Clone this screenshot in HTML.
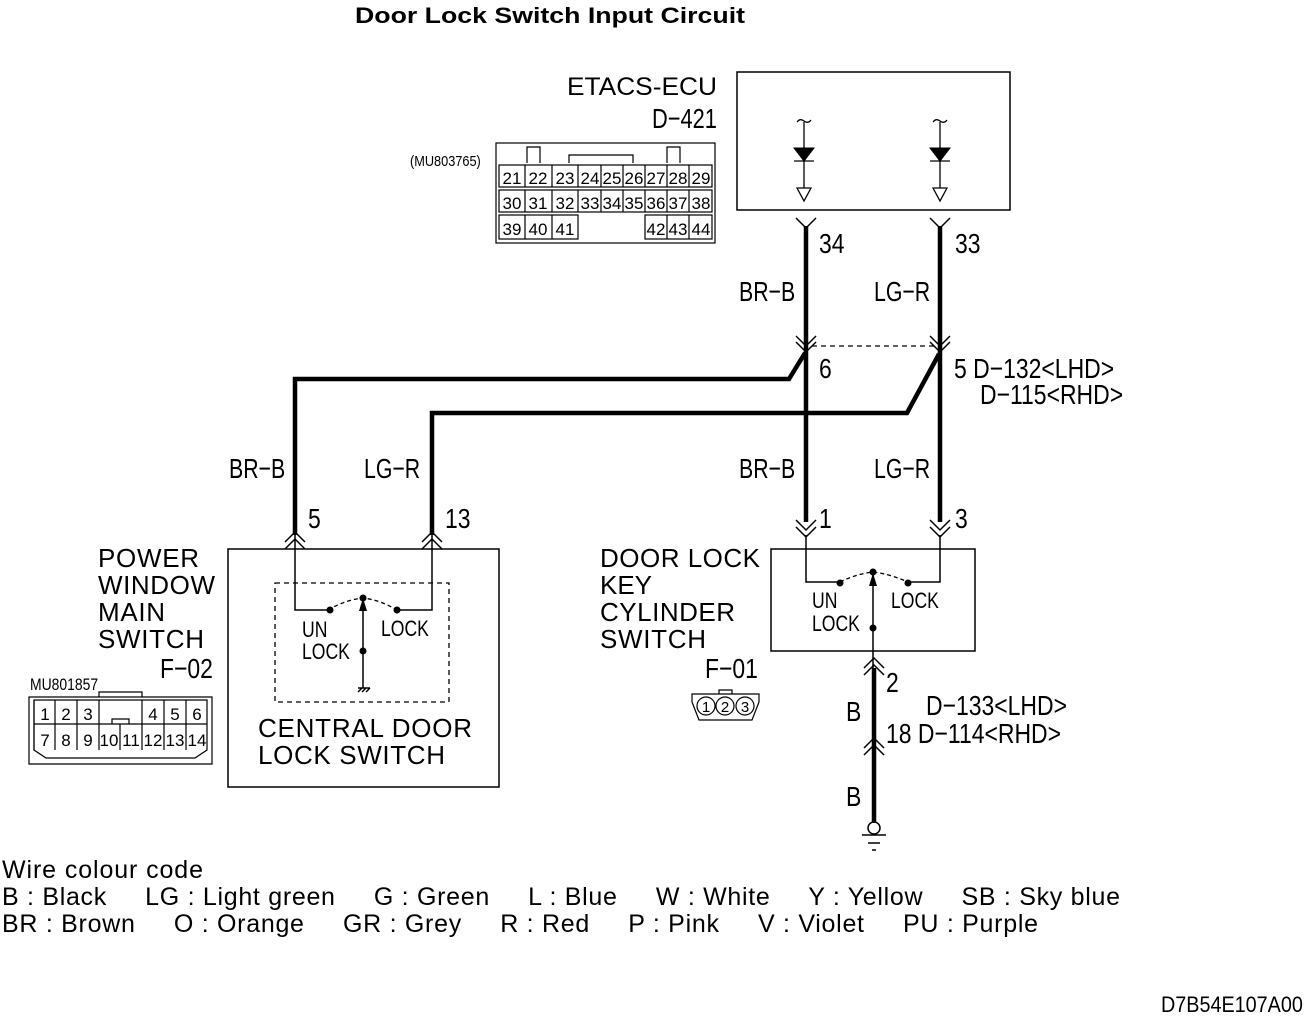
<!DOCTYPE html>
<html><head><meta charset="utf-8"><style>
html,body{margin:0;padding:0;background:#fff}
svg{display:block}
text{font-family:"Liberation Sans",sans-serif;fill:#000}
</style></head><body>
<svg width="1308" height="1017" viewBox="0 0 1308 1017" xmlns="http://www.w3.org/2000/svg">
<g fill="none" stroke="#000">
<text x="355" y="23" font-size="22" font-weight="bold" stroke="none" textLength="390" lengthAdjust="spacingAndGlyphs">Door Lock Switch Input Circuit</text>

<!-- ECU -->
<rect x="737" y="72" width="273" height="138" stroke-width="1.5"/>
<g stroke-width="1.3">
<path d="M797 122 q3 -4 7 -1 t7 -1"/><path d="M804 122 V188"/>
<path d="M933 122 q3 -4 7 -1 t7 -1"/><path d="M940 122 V188"/>
<path d="M794 161 H814 M930 161 H950"/>
<path d="M797 188 H811 L804 201 Z M933 188 H947 L940 201 Z"/>
</g>
<path d="M794 148 H814 L804 161 Z M930 148 H950 L940 161 Z" fill="#000"/>
<text x="567" y="95" font-size="25" stroke="none" textLength="150" lengthAdjust="spacingAndGlyphs">ETACS-ECU</text>
<text transform="translate(652 128) scale(0.78 1)" font-size="28" stroke="none">D−421</text>
<text transform="translate(410 166) scale(0.85 1)" font-size="15" stroke="none">(MU803765)</text>

<!-- ECU connector -->
<g stroke-width="1.2">
<rect x="496" y="143" width="219" height="100"/>
<path d="M527 163 V147 H540 V163 M569 163 V155 H633 V163 M667 163 V147 H680 V163"/>
<rect x="499" y="165" width="213" height="22"/>
<rect x="499" y="190" width="213" height="22"/>
<rect x="499" y="215" width="79" height="24"/>
<rect x="645" y="215" width="67" height="24"/>
<path d="M525 165 V187 M552 165 V187 M578 165 V187 M601 165 V187 M623 165 V187 M645 165 V187 M667 165 V187 M689 165 V187"/>
<path d="M525 190 V212 M552 190 V212 M578 190 V212 M601 190 V212 M623 190 V212 M645 190 V212 M667 190 V212 M689 190 V212"/>
<path d="M525 215 V239 M552 215 V239 M667 215 V239 M689 215 V239"/>
</g>
<g font-size="17" stroke="none" text-anchor="middle">
<text x="512" y="184">21</text><text x="538" y="184">22</text><text x="565" y="184">23</text><text x="590" y="184">24</text><text x="612" y="184">25</text><text x="634" y="184">26</text><text x="656" y="184">27</text><text x="678" y="184">28</text><text x="701" y="184">29</text>
<text x="512" y="209">30</text><text x="538" y="209">31</text><text x="565" y="209">32</text><text x="590" y="209">33</text><text x="612" y="209">34</text><text x="634" y="209">35</text><text x="656" y="209">36</text><text x="678" y="209">37</text><text x="701" y="209">38</text>
<text x="512" y="235">39</text><text x="538" y="235">40</text><text x="565" y="235">41</text><text x="656" y="235">42</text><text x="678" y="235">43</text><text x="701" y="235">44</text>
</g>

<!-- main wires -->
<g stroke-width="4.5">
<path d="M806 226 V522"/><path d="M940 226 V522"/>
<path d="M805 353 L789 379 H295 V535"/>
<path d="M939 354 L907 413 H432 V535"/>
<path d="M874 668 V823"/>
</g>
<g stroke-width="1.5">
<path d="M796 218 L806 228 L816 218 M930 218 L940 228 L950 218"/>
<path d="M796 336 L806 346 L816 336 M796 342 L806 352 L816 342"/>
<path d="M930 336 L940 346 L950 336 M930 342 L940 352 L950 342"/>
</g>
<path d="M812 346 H935" stroke-width="1.3" stroke-dasharray="5,4"/>

<g font-size="28" stroke="none">
<text transform="translate(819 253) scale(0.82 1)">34</text><text transform="translate(955 253) scale(0.82 1)">33</text>
<text transform="translate(739 301) scale(0.76 1)">BR−B</text><text transform="translate(874 301) scale(0.76 1)">LG−R</text>
<text transform="translate(819 378) scale(0.82 1)">6</text>
<text transform="translate(954 378) scale(0.82 1)">5 D−132&lt;LHD&gt;</text>
<text transform="translate(980 404) scale(0.82 1)">D−115&lt;RHD&gt;</text>
<text transform="translate(229 478) scale(0.76 1)">BR−B</text><text transform="translate(364 478) scale(0.76 1)">LG−R</text>
<text transform="translate(739 478) scale(0.76 1)">BR−B</text><text transform="translate(874 478) scale(0.76 1)">LG−R</text>
<text transform="translate(308 528) scale(0.82 1)">5</text><text transform="translate(445 528) scale(0.82 1)">13</text>
<text transform="translate(819 528) scale(0.82 1)">1</text><text transform="translate(955 528) scale(0.82 1)">3</text>
<text transform="translate(886 692) scale(0.82 1)">2</text>
<text transform="translate(846 721) scale(0.82 1)">B</text>
<text transform="translate(926 715) scale(0.82 1)">D−133&lt;LHD&gt;</text>
<text transform="translate(886 743) scale(0.82 1)">18 D−114&lt;RHD&gt;</text>
<text transform="translate(846 806) scale(0.82 1)">B</text>
<text transform="translate(160 678) scale(0.82 1)">F−02</text>
<text transform="translate(705 678) scale(0.82 1)">F−01</text>
</g>

<!-- Power window main switch -->
<rect x="228" y="549" width="271" height="238" stroke-width="1.5"/>
<g stroke-width="1.5">
<path d="M285 542 L295 532 L305 542 M285 549 L295 539 L305 549"/>
<path d="M422 542 L432 532 L442 542 M422 549 L432 539 L442 549"/>
<path d="M295 535 V610 H328 M432 535 V610 H397"/>
<path d="M363 598 V688 M358 688 H370 M358 692 L362 688 M362 692 L366 688 M366 692 L370 688"/>
</g>
<rect x="275" y="583" width="174" height="119" stroke-width="1.3" stroke-dasharray="5,4"/>
<path d="M328 610 Q345 600 363 598 Q380 600 397 610" stroke-width="1.3" stroke-dasharray="4,3"/>
<g fill="#000" stroke="none">
<circle cx="330" cy="610" r="3.5"/><circle cx="397" cy="610" r="3.5"/><circle cx="363" cy="598" r="3.5"/><circle cx="363" cy="651" r="3.5"/>
<path d="M359 611 L363 598 L367 611 Z"/>
</g>
<g font-size="22" stroke="none">
<text transform="translate(302 637) scale(0.8 1)">UN</text><text transform="translate(302 659) scale(0.8 1)">LOCK</text><text transform="translate(381 636) scale(0.8 1)">LOCK</text>
<text transform="translate(812 608) scale(0.8 1)">UN</text><text transform="translate(812 631) scale(0.8 1)">LOCK</text><text transform="translate(891 608) scale(0.8 1)">LOCK</text>
</g>
<g font-size="26" stroke="none" lengthAdjust="spacingAndGlyphs">
<text x="98" y="567" textLength="101">POWER</text><text x="98" y="594" textLength="117">WINDOW</text><text x="98" y="621" textLength="67">MAIN</text><text x="98" y="648" textLength="106">SWITCH</text>
<text x="258" y="737" textLength="214">CENTRAL DOOR</text><text x="258" y="764" textLength="187">LOCK SWITCH</text>
<text x="600" y="567" textLength="160">DOOR LOCK</text><text x="600" y="594" textLength="52">KEY</text><text x="600" y="621" textLength="135">CYLINDER</text><text x="600" y="648" textLength="106">SWITCH</text>
</g>
<text transform="translate(30 690) scale(0.82 1)" font-size="17" stroke="none">MU801857</text>

<!-- F-02 connector -->
<g stroke-width="1.2">
<path d="M29 697 H212 V764 H29 Z"/>
<path d="M99 697 V692 H142 V697"/>
<path d="M34 700 H207 V750 L195 758 H46 L34 750 Z"/>
<path d="M34 724 H99 M142 724 H207 M34 700 V750"/>
<path d="M99 700 V750 M142 700 V750 M55 700 V750 M77 700 V750 M120 724 V750 M164 700 V750 M186 700 V750"/>
<path d="M99 724 H142 M112 724 V719 H129 V724"/>
</g>
<g font-size="17" stroke="none" text-anchor="middle">
<text x="45" y="720">1</text><text x="66" y="720">2</text><text x="88" y="720">3</text><text x="153" y="720">4</text><text x="175" y="720">5</text><text x="197" y="720">6</text>
<text x="45" y="746">7</text><text x="66" y="746">8</text><text x="88" y="746">9</text><text x="109" y="746">10</text><text x="131" y="746">11</text><text x="153" y="746">12</text><text x="175" y="746">13</text><text x="197" y="746">14</text>
</g>

<!-- F-01 connector -->
<g stroke-width="1.2">
<path d="M692 694 H759 V702 L752 720 H699 L692 702 Z"/>
<path d="M719 694 V690 H732 V694"/>
<circle cx="706" cy="706" r="9"/><circle cx="725" cy="706" r="9"/><circle cx="745" cy="706" r="9"/>
</g>
<g font-size="15" stroke="none" text-anchor="middle">
<text x="706" y="712">1</text><text x="725" y="712">2</text><text x="745" y="712">3</text>
</g>

<!-- Door lock key cylinder switch -->
<rect x="771" y="549" width="204" height="102" stroke-width="1.5"/>
<g stroke-width="1.5">
<path d="M796 520 L806 530 L816 520 M796 527 L806 537 L816 527"/>
<path d="M930 520 L940 530 L950 520 M930 527 L940 537 L950 527"/>
<path d="M806 535 V582 H840 M940 535 V582 H908"/>
<path d="M873 572 V668"/>
<path d="M864 668 L874 658 L884 668 M864 675 L874 665 L884 675"/>
<path d="M864 748 L874 738 L884 748 M864 755 L874 745 L884 755"/>
<circle cx="874" cy="828" r="6"/>
<path d="M862 835 H886 M868 843 H880 M872 850 H876"/>
</g>
<path d="M840 582 Q856 574 873 572 Q890 574 908 582" stroke-width="1.3" stroke-dasharray="4,3"/>
<g fill="#000" stroke="none">
<circle cx="840" cy="583" r="3.5"/><circle cx="908" cy="583" r="3.5"/><circle cx="873" cy="572" r="3.5"/><circle cx="873" cy="628" r="3.5"/>
<path d="M869 586 L873 573 L877 586 Z"/>
</g>

<!-- legend -->
<g font-size="25" stroke="none" lengthAdjust="spacingAndGlyphs">
<text x="2" y="878" textLength="201">Wire colour code</text>
<text x="2" y="905" xml:space="preserve" textLength="1118">B : Black     LG : Light green     G : Green     L : Blue     W : White     Y : Yellow     SB : Sky blue</text>
<text x="2" y="932" xml:space="preserve" textLength="1036">BR : Brown     O : Orange     GR : Grey     R : Red     P : Pink     V : Violet     PU : Purple</text>
</g>
<text transform="translate(1161 1012) scale(0.9 1)" font-size="22" stroke="none">D7B54E107A00</text>
</g>
</svg>
</body></html>
